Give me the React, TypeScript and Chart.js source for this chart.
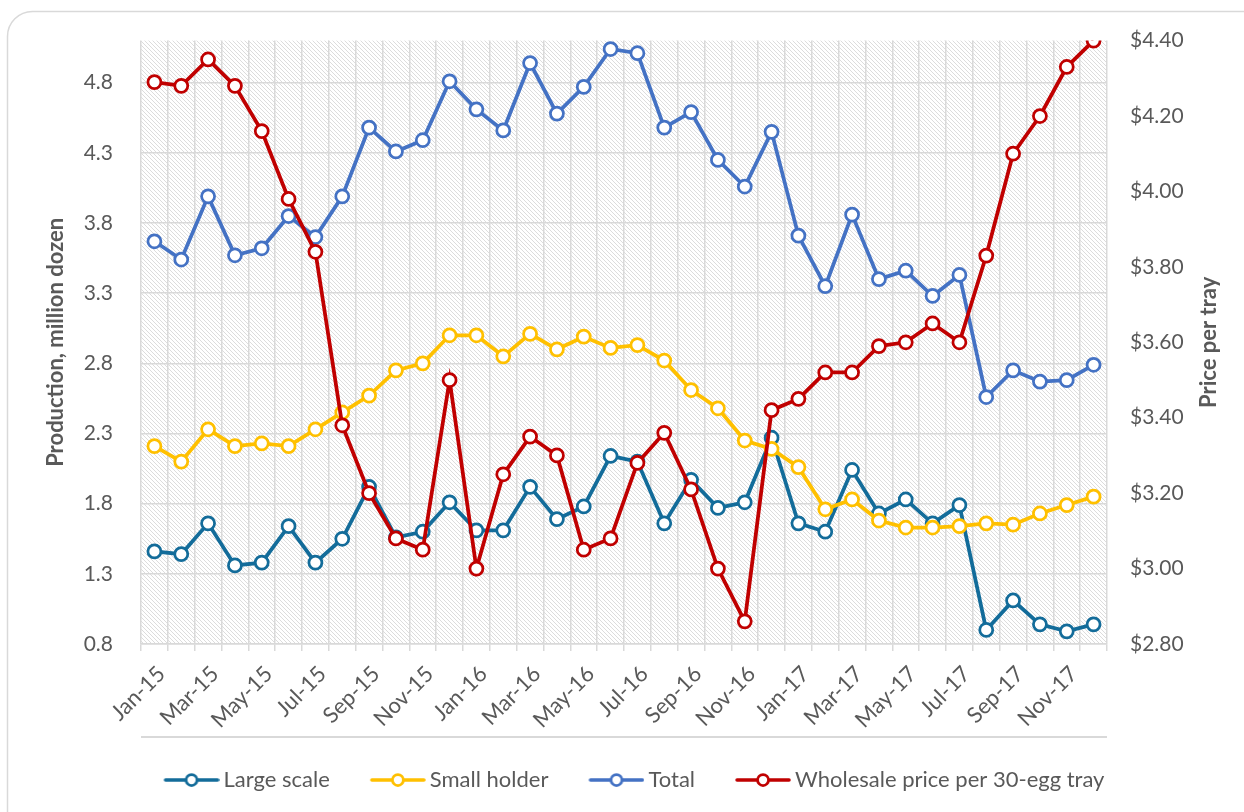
import React, { useEffect, useRef } from "react";
import { Chart, registerables } from "chart.js";

Chart.register(...registerables);

const months = [
  "Jan-15", "Feb-15", "Mar-15", "Apr-15", "May-15", "Jun-15", "Jul-15", "Aug-15", "Sep-15", "Oct-15", "Nov-15", "Dec-15",
  "Jan-16", "Feb-16", "Mar-16", "Apr-16", "May-16", "Jun-16", "Jul-16", "Aug-16", "Sep-16", "Oct-16", "Nov-16", "Dec-16",
  "Jan-17", "Feb-17", "Mar-17", "Apr-17", "May-17", "Jun-17", "Jul-17", "Aug-17", "Sep-17", "Oct-17", "Nov-17", "Dec-17",
];

const largeScale = [
  1.46, 1.44, 1.66, 1.36, 1.38, 1.64, 1.38, 1.55, 1.92, 1.56, 1.6, 1.81,
  1.61, 1.61, 1.92, 1.69, 1.78, 2.14, 2.1, 1.66, 1.97, 1.77, 1.81, 2.27,
  1.66, 1.6, 2.04, 1.73, 1.83, 1.66, 1.79, 0.9, 1.11, 0.94, 0.89, 0.94,
];

const smallHolder = [
  2.21, 2.1, 2.33, 2.21, 2.23, 2.21, 2.33, 2.45, 2.57, 2.75, 2.8, 3.0,
  3.0, 2.85, 3.01, 2.9, 2.99, 2.91, 2.93, 2.82, 2.61, 2.48, 2.25, 2.19,
  2.06, 1.76, 1.83, 1.68, 1.63, 1.63, 1.64, 1.66, 1.65, 1.73, 1.79, 1.85,
];

const total = [
  3.67, 3.54, 3.99, 3.57, 3.62, 3.85, 3.7, 3.99, 4.48, 4.31, 4.39, 4.81,
  4.61, 4.46, 4.94, 4.58, 4.77, 5.04, 5.01, 4.48, 4.59, 4.25, 4.06, 4.45,
  3.71, 3.35, 3.86, 3.4, 3.46, 3.28, 3.43, 2.56, 2.75, 2.67, 2.68, 2.79,
];

const wholesalePrice = [
  4.29, 4.28, 4.35, 4.28, 4.16, 3.98, 3.84, 3.38, 3.2, 3.08, 3.05, 3.5,
  3.0, 3.25, 3.35, 3.3, 3.05, 3.08, 3.28, 3.36, 3.21, 3.0, 2.86, 3.42,
  3.45, 3.52, 3.52, 3.59, 3.6, 3.65, 3.6, 3.83, 4.1, 4.2, 4.33, 4.4,
];

const productionTicks = [0.8, 1.3, 1.8, 2.3, 2.8, 3.3, 3.8, 4.3, 4.8];
const priceTicks = [2.8, 3.0, 3.2, 3.4, 3.6, 3.8, 4.0, 4.2, 4.4];

const seriesNames = ["Large scale", "Small holder", "Total", "Wholesale price per 30-egg tray"];
const seriesColors = ["#136C9A", "#FFC000", "#4472C4", "#C00000"];

const FONT = "Lato, 'Open Sans', sans-serif";
const TEXT = "#595959";
const GRID = "#d9d9d9";
const LEGEND_GAP = 37;

function makeLegendIcon(color: string): HTMLCanvasElement {
  const c = document.createElement("canvas");
  c.width = 56 + LEGEND_GAP;
  c.height = 20;
  const ctx = c.getContext("2d")!;
  const o = LEGEND_GAP;
  ctx.strokeStyle = color;
  ctx.lineWidth = 3.5;
  ctx.lineCap = "round";
  ctx.beginPath();
  ctx.moveTo(o + 2, 10);
  ctx.lineTo(o + 54, 10);
  ctx.stroke();
  ctx.beginPath();
  ctx.arc(o + 28, 10, 5.5, 0, Math.PI * 2);
  ctx.fillStyle = "#ffffff";
  ctx.fill();
  ctx.lineWidth = 2.75;
  ctx.stroke();
  return c;
}

function makeHatch(ctx: CanvasRenderingContext2D): CanvasPattern | string {
  const p = document.createElement("canvas");
  p.width = 4;
  p.height = 4;
  const pc = p.getContext("2d")!;
  pc.fillStyle = "#ffffff";
  pc.fillRect(0, 0, 4, 4);
  pc.fillStyle = "#dcdcdc";
  for (let i = 0; i < 4; i++) pc.fillRect(i, i, 1, 1);
  return ctx.createPattern(p, "repeat") || "#f0f0f0";
}

const decorPlugin = {
  id: "decor",
  beforeDraw(chart: any) {
    const { ctx, chartArea } = chart;
    ctx.save();
    ctx.strokeStyle = GRID;
    ctx.lineWidth = 1.5;
    ctx.beginPath();
    const x0 = 7.5, y0 = 11.5, r = 25;
    ctx.moveTo(x0, 900);
    ctx.lineTo(x0, y0 + r);
    ctx.arcTo(x0, y0, x0 + r, y0, r);
    ctx.lineTo(1400, y0);
    ctx.stroke();
    ctx.fillStyle = makeHatch(ctx);
    ctx.fillRect(chartArea.left, chartArea.top, chartArea.right - chartArea.left, chartArea.bottom - chartArea.top);
    ctx.restore();
  },
  afterDraw(chart: any) {
    const { ctx, chartArea } = chart;
    ctx.save();
    ctx.strokeStyle = GRID;
    ctx.lineWidth = 2;
    ctx.beginPath();
    ctx.moveTo(chartArea.left, 737);
    ctx.lineTo(chartArea.right, 737);
    ctx.stroke();
    ctx.fillStyle = TEXT;
    ctx.font = `bold 22px ${FONT}`;
    ctx.textAlign = "center";
    ctx.textBaseline = "middle";
    ctx.translate(1209, (chartArea.top + chartArea.bottom) / 2);
    ctx.rotate(-Math.PI / 2);
    ctx.fillText("Price per tray", 0, 0);
    ctx.restore();
  },
};

export default function App() {
  const canvasRef = useRef<HTMLCanvasElement | null>(null);

  useEffect(() => {
    if (!canvasRef.current) return;
    const icons = seriesColors.map((c) => makeLegendIcon(c));
    const allSeries = [largeScale, smallHolder, total, wholesalePrice];
    const orders = [4, 3, 2, 1];

    const datasets = allSeries.map((data, i) => ({
      label: seriesNames[i],
      data,
      yAxisID: i === 3 ? "y1" : "y",
      borderColor: seriesColors[i],
      backgroundColor: seriesColors[i],
      pointBackgroundColor: "#ffffff",
      pointBorderColor: seriesColors[i],
      pointRadius: 6.5,
      pointBorderWidth: 2.75,
      borderWidth: 3.75,
      tension: 0,
      order: orders[i],
    }));

    const chart = new Chart(canvasRef.current, {
      type: "line",
      data: { labels: months, datasets },
      plugins: [decorPlugin],
      options: {
        responsive: false,
        animation: false,
        layout: { padding: { top: 39, left: 0, right: 6, bottom: 11 } },
        plugins: {
          tooltip: { enabled: false },
          legend: {
            position: "bottom",
            labels: {
              usePointStyle: true,
              pointStyleWidth: 42 + LEGEND_GAP,
              padding: 10,
              color: TEXT,
              font: { family: FONT, size: 22 },
              generateLabels: () =>
                seriesNames.map((name, i) => ({
                  text: name,
                  pointStyle: icons[i],
                  fillStyle: "rgba(0,0,0,0)",
                  strokeStyle: "rgba(0,0,0,0)",
                  lineWidth: 0,
                  fontColor: TEXT,
                  datasetIndex: i,
                  hidden: false,
                })),
            },
          },
        },
        scales: {
          x: {
            type: "category",
            offset: true,
            grid: { offset: true, color: GRID, lineWidth: 1.5, tickLength: 7, drawTicks: true },
            border: { color: GRID, width: 1.5 },
            ticks: {
              autoSkip: false,
              maxRotation: 45,
              minRotation: 45,
              padding: 10,
              labelOffset: 7,
              color: TEXT,
              font: { family: FONT, size: 22 },
              callback: (_v: any, i: number) => (i % 2 === 0 ? months[i] : ""),
            },
            afterFit: (s: any) => {
              s.height = 115;
            },
          },
          y: {
            position: "left",
            min: 0.8,
            max: 5.1,
            afterBuildTicks: (s: any) => {
              s.ticks = productionTicks.map((v) => ({ value: v }));
            },
            grid: { color: GRID, lineWidth: 1.5, drawTicks: false },
            border: { display: false },
            ticks: {
              padding: 28,
              color: TEXT,
              font: { family: FONT, size: 21 },
              callback: (v: any) => Number(v).toFixed(1),
            },
            title: {
              display: true,
              text: "Production, million dozen",
              color: TEXT,
              font: { family: FONT, size: 22, weight: "bold" },
              padding: { top: 43, bottom: 0 },
            },
            afterFit: (s: any) => {
              s.width = 141;
            },
          },
          y1: {
            position: "right",
            min: 2.8,
            max: 4.4,
            afterBuildTicks: (s: any) => {
              s.ticks = priceTicks.map((v) => ({ value: v }));
            },
            grid: { drawOnChartArea: false, drawTicks: false },
            border: { display: false },
            ticks: {
              padding: 23,
              color: TEXT,
              font: { family: FONT, size: 21 },
              callback: (v: any) => "$" + Number(v).toFixed(2),
            },
            afterFit: (s: any) => {
              s.width = 131;
            },
          },
        },
      } as any,
    });

    return () => chart.destroy();
  }, []);

  return (
    <div style={{ position: "fixed", left: 0, top: 0, width: 1244, height: 812, background: "#ffffff" }}>
      <canvas ref={canvasRef} width={1244} height={812} />
    </div>
  );
}
